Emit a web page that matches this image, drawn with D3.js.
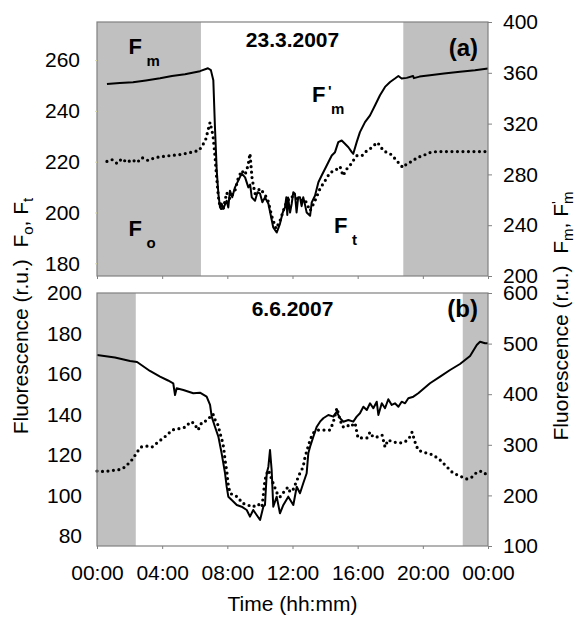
<!DOCTYPE html>
<html>
<head>
<meta charset="utf-8">
<script src="https://cdn.jsdelivr.net/npm/d3@7"></script>
<style>
body { margin: 0; background: #fff; }
text { font-family: Arial, "Liberation Sans", sans-serif; }
</style>
</head>
<body>
<div id="chart"></div>
<script>
// x ticks (hours of the day)
var xTickHours = [0, 4, 8, 12, 16, 20, 24];

// (a) 23.3.2007
var topLeftTicks = [180, 200, 220, 240, 260];
var topRightTicks = [200, 240, 280, 320, 360, 400];
var topNight = [[0, 6.38], [18.8, 24]];

// Fm / F'm (solid, right axis)
var topFmHours = [0.61, 1.4, 2.21, 3.0, 3.87, 4.6, 5.4, 6.32, 6.81, 6.99, 7.14, 7.24, 7.35, 7.45, 7.55, 7.65, 7.75, 7.96, 8.06, 8.16, 8.3, 8.47, 8.67, 8.88, 9.09, 9.29, 9.4, 9.5, 9.7, 9.85, 10.01, 10.15, 10.31, 10.52, 10.82, 11.03, 11.23, 11.4, 11.54, 11.62, 11.68, 11.73, 11.85, 11.95, 12.05, 12.15, 12.25, 12.35, 12.46, 12.56, 12.66, 12.77, 12.87, 13.08, 13.18, 13.38, 13.59, 13.79, 14.0, 14.2, 14.41, 14.61, 14.81, 15.02, 15.22, 15.43, 15.64, 15.73, 15.94, 16.14, 16.45, 16.76, 17.07, 17.37, 17.68, 17.99, 18.29, 18.5, 18.7, 19.01, 19.4, 19.45, 19.8, 20.44, 21.3, 22.28, 23.2, 24];
var topFmValues = [351.2, 352.0, 352.6, 354.0, 355.7, 357.5, 358.9, 361.3, 363.6, 362.1, 354.2, 317.2, 283.0, 264.8, 254.0, 257, 253.0, 259.3, 254, 267.2, 262, 269.8, 275.1, 280.6, 277.7, 269.8, 272, 261.9, 259.3, 266, 264.8, 258, 261.9, 256.9, 238.2, 234.2, 241.1, 250, 254.0, 262, 248, 261.9, 250, 256.9, 266, 264.8, 250, 262, 262, 255, 262, 256, 250.0, 247.4, 257.9, 263.2, 273.8, 279.1, 284.4, 289.6, 294.9, 297.5, 305.4, 306.7, 304.1, 301.4, 297.5, 296.2, 305.4, 313.3, 321.2, 326.5, 334.4, 342.3, 348.9, 352.8, 355.5, 357.5, 355.5, 356.0, 357.5, 355.8, 357, 358.1, 359.5, 360.9, 362.0, 363.4];

// Fo / Ft (dotted, left axis)
var topFtHours = [0.61, 0.92, 1.23, 1.53, 1.84, 2.15, 2.46, 2.76, 3.13, 3.56, 3.99, 4.48, 5.1, 5.71, 6.26, 6.51, 6.69, 6.81, 6.94, 7.12, 7.24, 7.35, 7.45, 7.55, 7.73, 7.96, 8.16, 8.47, 8.66, 8.88, 9.09, 9.27, 9.39, 9.52, 9.7, 10.01, 10.31, 10.5, 10.74, 10.99, 11.23, 11.54, 11.85, 12.15, 12.46, 12.77, 13.08, 13.38, 13.69, 14.0, 14.3, 14.61, 14.92, 15.1, 15.35, 15.53, 15.72, 15.96, 16.27, 16.57, 16.88, 17.19, 17.37, 17.56, 17.8, 17.99, 18.29, 18.6, 18.78, 19.03, 19.34, 19.64, 20.01, 20.44, 20.87, 22.28, 24];
var topFtValues = [220.1, 220.8, 219.3, 221.2, 219.7, 220.8, 219.7, 221.6, 220.5, 221.6, 222.0, 222.4, 222.8, 223.6, 224.4, 226.8, 229.1, 232.3, 235.5, 230.3, 222.4, 213.3, 206.2, 202.3, 200.7, 207.8, 205.4, 208.6, 213.3, 216.5, 214.9, 218.5, 223.2, 213.3, 207.4, 209.4, 207.0, 204.6, 198.3, 193.6, 196.7, 202.7, 206.2, 206.2, 204.6, 205.0, 200.7, 204.6, 209.4, 212.5, 215.7, 216.5, 218.1, 214.5, 217.3, 218.5, 220.4, 222.4, 222.4, 224.4, 225.6, 227.6, 226.4, 224.4, 223.6, 223.2, 221.2, 218.9, 217.7, 219.3, 220.1, 221.6, 222.4, 223.6, 224.0, 224.0, 224.0];

// (b) 6.6.2007
var bottomLeftTicks = [80, 100, 120, 140, 160, 180, 200];
var bottomRightTicks = [100, 200, 300, 400, 500, 600];
var bottomNight = [[0, 2.38], [22.45, 24]];

var bottomFmHours = [0, 1.1, 2.03, 2.46, 3.25, 3.87, 4.36, 4.68, 4.79, 4.89, 5.3, 5.91, 6.32, 6.73, 6.94, 7.04, 7.24, 7.45, 7.65, 7.86, 7.96, 8.06, 8.27, 8.58, 8.88, 9.19, 9.39, 9.59, 9.8, 10.01, 10.21, 10.31, 10.42, 10.52, 10.62, 10.72, 10.82, 11.03, 11.23, 11.44, 11.74, 12.05, 12.26, 12.46, 12.66, 12.87, 12.97, 13.08, 13.28, 13.49, 13.69, 13.89, 14.2, 14.51, 14.71, 14.92, 15.12, 15.43, 15.73, 15.94, 16.14, 16.35, 16.56, 16.76, 16.96, 17.17, 17.27, 17.48, 17.68, 17.88, 18.09, 18.29, 18.5, 18.7, 18.91, 19.11, 19.42, 19.72, 20.44, 21.06, 21.67, 22.28, 22.9, 23.31, 23.51, 23.82, 24];
var bottomFmValues = [477.5, 472.5, 465.6, 463.7, 445.9, 434.6, 427.1, 421.6, 398.4, 411.7, 408.3, 401.8, 403.0, 395.1, 378.7, 355.6, 335.8, 316.1, 283.2, 243.7, 217.2, 197.5, 190.9, 181.1, 177.7, 171.2, 158.0, 171.2, 161.3, 151.4, 177.7, 181.1, 243.7, 256.8, 289.8, 250.2, 177.7, 197.5, 164.7, 181.1, 197.5, 181.1, 217.2, 204.2, 224.0, 243.7, 283.2, 296.3, 316.0, 335.8, 345.7, 352.4, 358.9, 355.6, 365.4, 352.4, 345.7, 349.0, 345.7, 355.6, 362.3, 375.3, 368.8, 382.0, 372.2, 385.2, 358.9, 382.0, 372.2, 390.0, 378.7, 382.0, 375.3, 385.2, 382.0, 391.9, 395.1, 401.8, 421.6, 434.6, 447.8, 459.7, 475.5, 497.2, 503.8, 500.6, 500.6];

var bottomFtHours = [0, 0.49, 0.92, 1.41, 1.72, 1.9, 2.09, 2.27, 2.46, 2.7, 3.01, 3.38, 3.68, 3.99, 4.3, 4.6, 4.91, 5.22, 5.46, 5.71, 5.95, 6.2, 6.45, 6.69, 6.94, 7.12, 7.3, 7.43, 7.55, 7.67, 7.77, 7.86, 7.98, 8.04, 8.16, 8.35, 8.66, 8.9, 9.27, 9.58, 9.82, 10.01, 10.13, 10.31, 10.44, 10.53, 10.74, 10.83, 11.05, 11.23, 11.42, 11.72, 11.85, 12.03, 12.28, 12.46, 12.65, 12.77, 12.95, 13.08, 13.26, 13.57, 13.87, 14.3, 14.49, 14.73, 14.92, 15.1, 15.35, 15.53, 15.84, 16.02, 16.27, 16.57, 16.76, 16.94, 17.25, 17.5, 17.68, 17.86, 18.17, 18.6, 18.91, 19.21, 19.34, 19.52, 19.71, 20.01, 20.63, 21.06, 21.49, 21.85, 22.41, 22.71, 23.02, 23.33, 23.63, 23.94];
var bottomFtValues = [112.0, 111.8, 112.3, 112.8, 114.0, 115.5, 117.0, 119.0, 121.4, 123.9, 124.4, 123.9, 125.9, 127.9, 129.8, 132.3, 132.8, 133.3, 133.8, 136.3, 135.8, 132.3, 136.3, 136.8, 138.7, 140.2, 136.3, 134.8, 130.8, 127.4, 123.9, 117.5, 111.1, 106.1, 101.2, 100.2, 99.2, 96.2, 95.2, 94.3, 95.7, 95.2, 94.3, 107.6, 111.1, 112.5, 107.6, 105.6, 101.2, 99.2, 101.2, 104.1, 101.7, 102.7, 107.6, 111.1, 114.0, 119.0, 123.9, 127.4, 130.8, 132.3, 132.3, 132.3, 135.8, 143.2, 137.2, 133.8, 134.8, 133.8, 135.8, 128.4, 128.4, 128.4, 131.3, 128.9, 128.9, 129.8, 123.9, 127.4, 126.4, 125.9, 126.4, 128.9, 131.3, 126.4, 122.4, 121.4, 120.0, 117.5, 114.0, 111.1, 109.1, 108.1, 109.1, 111.6, 112.0, 110.1];

var width = 579, height = 617;
var left = 97, right = 488;
var frameColor = '#808080';

var svg = d3.select('#chart').append('svg')
    .attr('width', width)
    .attr('height', height);

var x = d3.scaleLinear().domain([0, 24]).range([left, right]);

function fmtHour(h) {
    return String(h % 24).padStart(2, '0') + ':00';
}

function zip(hs, vs) {
    return hs.map(function(h, i) { return [h, vs[i]]; });
}

function drawPanel(p) {
    var yL = d3.scaleLinear().domain(p.leftDomain).range([p.bottom, p.top]);
    var yR = d3.scaleLinear().domain(p.rightDomain).range([p.bottom, p.top]);
    var g = svg.append('g');

    // night shading
    g.selectAll('rect.night')
        .data(p.night)
        .enter().append('rect')
            .attr('class', 'night')
            .attr('x', function(d) { return x(d[0]); })
            .attr('y', p.top)
            .attr('width', function(d) { return x(d[1]) - x(d[0]); })
            .attr('height', p.bottom - p.top)
            .attr('fill', '#c0c0c0');

    var lineL = d3.line().x(function(d) { return x(d[0]); }).y(function(d) { return yL(d[1]); });
    var lineR = d3.line().x(function(d) { return x(d[0]); }).y(function(d) { return yR(d[1]); });

    // dotted Ft on left axis
    g.append('path')
        .datum(zip(p.ftHours, p.ftValues))
        .attr('d', lineL)
        .attr('fill', 'none')
        .attr('stroke', '#000')
        .attr('stroke-width', 3.2)
        .attr('stroke-linecap', 'round')
        .attr('stroke-dasharray', '0 5.5');

    // solid Fm on right axis
    g.append('path')
        .datum(zip(p.fmHours, p.fmValues))
        .attr('d', lineR)
        .attr('fill', 'none')
        .attr('stroke', '#000')
        .attr('stroke-width', 2)
        .attr('stroke-linejoin', 'round');

    // frame
    g.append('rect')
        .attr('x', left).attr('y', p.top)
        .attr('width', right - left).attr('height', p.bottom - p.top)
        .attr('fill', 'none')
        .attr('stroke', frameColor)
        .attr('stroke-width', 1.2);

    // axes
    var ax = g.append('g')
        .attr('transform', 'translate(0,' + p.bottom + ')')
        .call(d3.axisBottom(x).tickValues(xTickHours).tickSize(3).tickPadding(16)
            .tickFormat(p.xLabels ? fmtHour : function() { return ''; }));

    var al = g.append('g')
        .attr('transform', 'translate(' + left + ',0)')
        .call(d3.axisLeft(yL).tickValues(p.leftTicks).tickSize(p.leftTickSize).tickPadding(15));

    var ar = g.append('g')
        .attr('transform', 'translate(' + right + ',0)')
        .call(d3.axisRight(yR).tickValues(p.rightTicks).tickSize(4).tickPadding(11));

    [ax, al, ar].forEach(function(a) {
        a.attr('font-size', 21).attr('font-family', 'Arial, "Liberation Sans", sans-serif');
        a.select('.domain').remove();
        a.selectAll('.tick line').attr('stroke', frameColor);
        a.selectAll('.tick text').attr('fill', '#000');
    });
    al.selectAll('.tick line').attr('stroke', '#dede9a');

    // title and panel tag
    g.append('text')
        .attr('x', (left + right) / 2)
        .attr('y', p.titleY)
        .attr('text-anchor', 'middle')
        .attr('font-size', 21)
        .attr('font-weight', 'bold')
        .text(p.title);

    g.append('text')
        .attr('x', 478)
        .attr('y', p.tagY)
        .attr('text-anchor', 'end')
        .attr('font-size', 24)
        .attr('font-weight', 'bold')
        .text(p.tag);

    return g;
}

var gTop = drawPanel({
    top: 22, bottom: 276,
    leftDomain: [175, 275], rightDomain: [200, 400],
    leftTicks: topLeftTicks, rightTicks: topRightTicks, leftTickSize: 2,
    night: topNight,
    fmHours: topFmHours, fmValues: topFmValues,
    ftHours: topFtHours, ftValues: topFtValues,
    title: '23.3.2007', titleY: 47,
    tag: '(a)', tagY: 56,
    xLabels: false
});

drawPanel({
    top: 293, bottom: 546,
    leftDomain: [75, 200], rightDomain: [100, 600],
    leftTicks: bottomLeftTicks, rightTicks: bottomRightTicks, leftTickSize: 0,
    night: bottomNight,
    fmHours: bottomFmHours, fmValues: bottomFmValues,
    ftHours: bottomFtHours, ftValues: bottomFtValues,
    title: '6.6.2007', titleY: 316,
    tag: '(b)', tagY: 317,
    xLabels: true
});

// curve labels in panel (a)
function curveLabel(px, py, sub, prime) {
    gTop.append('text')
        .attr('x', px).attr('y', py)
        .attr('font-size', 22).attr('font-weight', 'bold')
        .text('F');
    if (prime) {
        gTop.append('text')
            .attr('x', px + 16).attr('y', py - 6)
            .attr('font-size', 15).attr('font-weight', 'bold')
            .text("'");
    }
    gTop.append('text')
        .attr('x', px + (prime ? 19 : 18)).attr('y', py + 12)
        .attr('font-size', 15).attr('font-weight', 'bold')
        .text(sub);
}
curveLabel(128.5, 54, 'm', false);
curveLabel(128.5, 236, 'o', false);
curveLabel(312, 102, 'm', true);
curveLabel(334, 233, 't', false);

// axis titles
function axisTitle(tx, ty, s1, s2, prime) {
    var t = svg.append('text')
        .attr('transform', 'translate(' + tx + ',' + ty + ') rotate(-90)')
        .attr('text-anchor', 'middle')
        .attr('font-size', 21);
    t.append('tspan').text('Fluorescence (r.u.)\u00a0\u00a0F');
    t.append('tspan').attr('font-size', 15).attr('dy', 5).text(s1);
    t.append('tspan').attr('dy', -5).text(', F');
    if (prime) {
        t.append('tspan').attr('font-size', 15).attr('dy', -6).text("'");
        t.append('tspan').attr('font-size', 15).attr('dy', 11).attr('dx', -3).text(s2);
    } else {
        t.append('tspan').attr('font-size', 15).attr('dy', 5).text(s2);
    }
}
axisTitle(28, 316, 'o', 't', false);
axisTitle(568, 316, 'm', 'm', true);

svg.append('text')
    .attr('x', (left + right) / 2)
    .attr('y', 611)
    .attr('text-anchor', 'middle')
    .attr('font-size', 21)
    .text('Time (hh:mm)');
</script>
</body>
</html>
